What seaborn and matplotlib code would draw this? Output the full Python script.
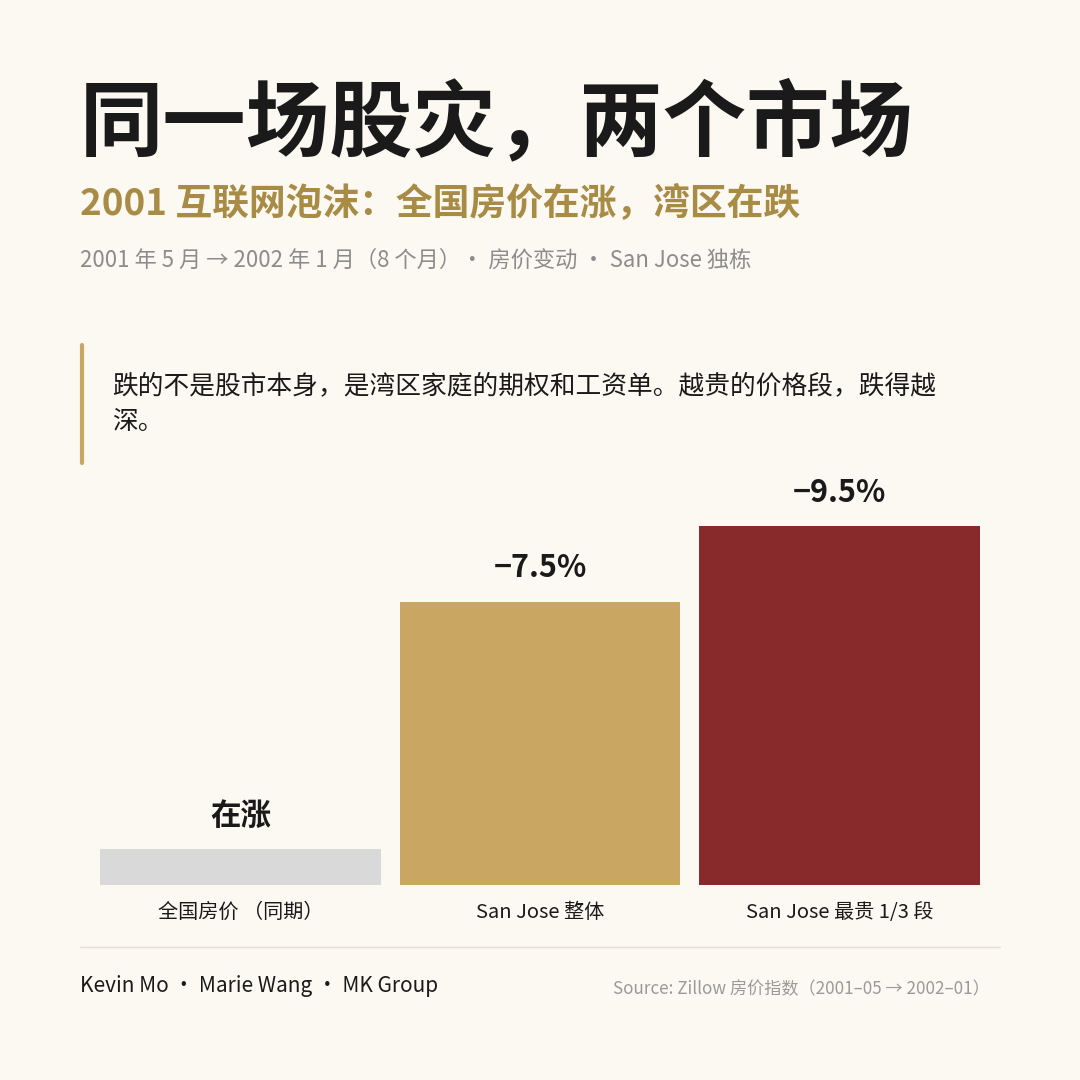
import matplotlib
matplotlib.use("Agg")
import matplotlib.pyplot as plt
import seaborn as sns
import pandas as pd

categories = ["全国房价 （同期）", "San Jose 整体", "San Jose 最贵 1/3 段"]
drops = [0.95, 7.5, 9.5]          # magnitude of change; national bar is a small placeholder ("在涨")
labels = ["在涨", "−7.5%", "−9.5%"]
colors = ["#D9D9D9", "#C9A763", "#88292C"]

bg = "#FCF9F2"
sns.set_theme(style="white")
plt.rcParams["font.family"] = ["Noto Sans CJK SC", "DejaVu Sans"]

df = pd.DataFrame({"cat": categories, "val": drops})

W = H = 1080
fig = plt.figure(figsize=(10.8, 10.8), dpi=100, facecolor=bg)

w = 0.937
ax = fig.add_axes([100 / W, 1 - 885 / H, 880 / W, 405 / H])
ax.set_facecolor(bg)
sns.barplot(data=df, x="cat", y="val", hue="cat", palette=colors, width=w,
            legend=False, ax=ax, saturation=1, linewidth=0)
ax.set_xlim(-w / 2, 2 + w / 2)
ax.set_ylim(0, 405 / 37.8)
ax.set_yticks([])
ax.set_xlabel("")
ax.set_ylabel("")
ax.tick_params(axis="x", length=0, labelsize=14.5, colors="#1A1A1A", pad=12)
for s in ax.spines.values():
    s.set_visible(False)
for i, (v, t) in enumerate(zip(drops, labels)):
    ax.text(i, v + 0.45, t, ha="center", va="bottom", fontsize=22,
            fontweight="bold", color="#1A1A1A")

fig.text(80 / W, 1 - 125 / H, "同一场股灾，两个市场", fontsize=60, fontweight="bold",
         color="#1A1A1A", va="center")
fig.text(80 / W, 1 - 204 / H, "2001 互联网泡沫：全国房价在涨，湾区在跌", fontsize=26.5,
         fontweight="bold", color="#A88B45", va="center")
fig.text(80 / W, 1 - 260 / H, "2001 年 5 月 → 2002 年 1 月（8 个月）· 房价变动 · San Jose 独栋",
         fontsize=16, color="#8C8C8C", va="center")

fig.add_artist(plt.Line2D([81.5 / W, 81.5 / W], [1 - 345 / H, 1 - 463 / H],
                          color="#C9A763", lw=3))
fig.text(112 / W, 1 - 386 / H, "跌的不是股市本身，是湾区家庭的期权和工资单。越贵的价格段，跌得越",
         fontsize=18.5, color="#1A1A1A", va="center")
fig.text(112 / W, 1 - 422 / H, "深。", fontsize=18.5, color="#1A1A1A", va="center")

fig.add_artist(plt.Line2D([80 / W, 1000 / W], [1 - 947 / H, 1 - 947 / H],
                          color="#E3DFD6", lw=1))
fig.text(80 / W, 1 - 986 / H, "Kevin Mo · Marie Wang · MK Group", fontsize=15,
         fontweight="medium", color="#1A1A1A", va="center")
fig.text(990 / W, 1 - 989 / H, "Source: Zillow 房价指数（2001–05 → 2002–01）",
         fontsize=12.3, color="#9A9A9A", va="center", ha="right")

fig.savefig("out.png", dpi=100, facecolor=bg)
